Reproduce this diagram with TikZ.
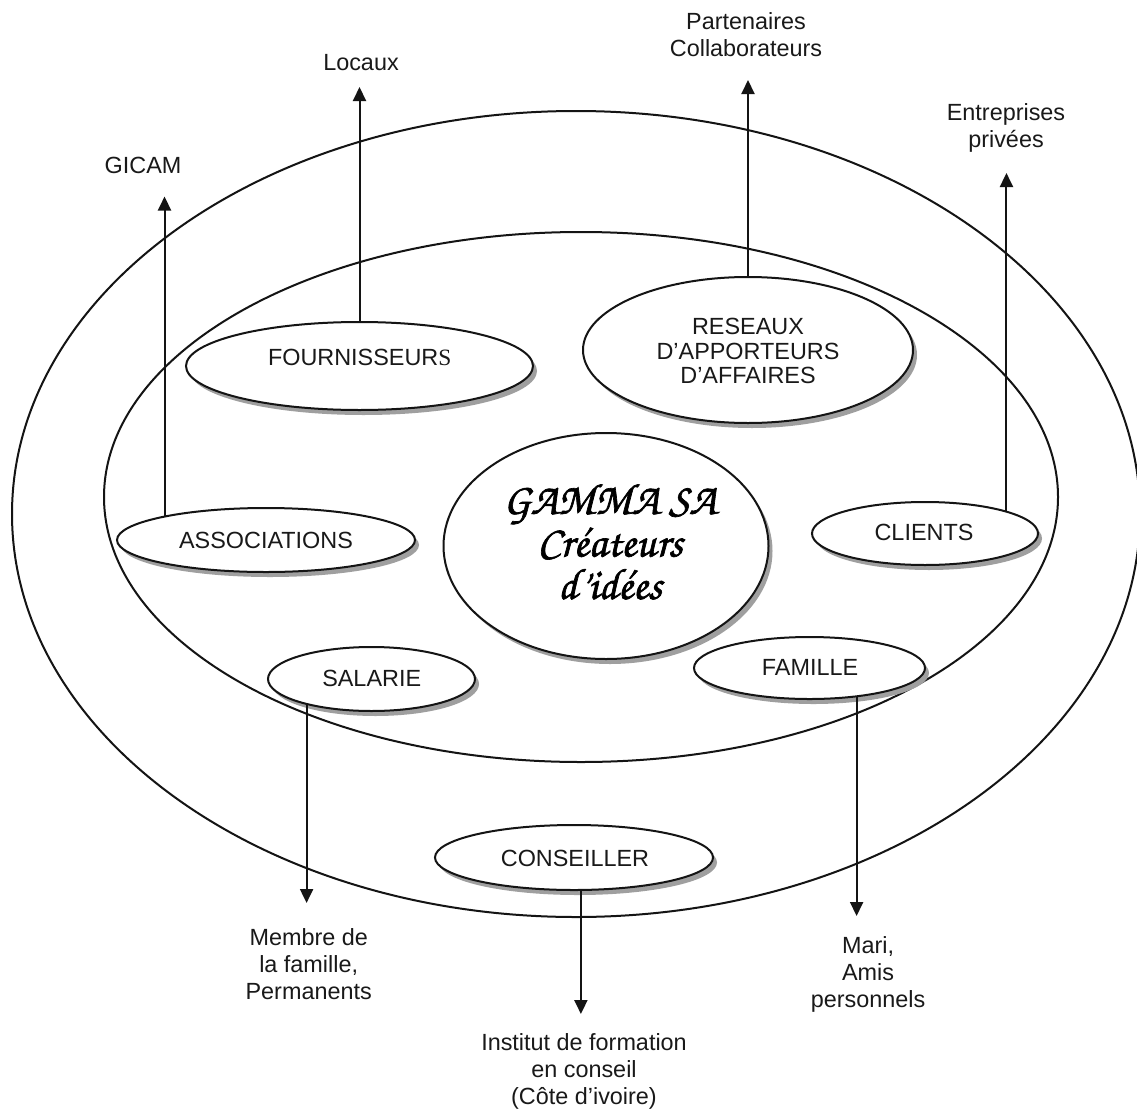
\documentclass[tikz,border=0pt]{standalone}
\usepackage{fontspec}
\setmainfont{Liberation Sans}
\newfontfamily\serifface{Liberation Serif}
\newfontfamily\gammaface[FakeBold=1.5]{texgyrechorus-mediumitalic.otf}
\usetikzlibrary{shapes.geometric,arrows.meta,shadows}
\begin{document}
\begin{tikzpicture}[x=1pt,y=-1pt,
  big/.style={draw=black!92, line width=2pt},
  actor/.style={ellipse, draw=black!92, fill=white, line width=2pt, inner sep=0pt, outer sep=0pt,
    drop shadow={shadow xshift=4pt, shadow yshift=-5pt, fill=gray!75, opacity=1}},
  lab/.style={font=\fontsize{23.4}{27}\selectfont, text=black!90, inner sep=0pt, align=center},
  arr/.style={-{Triangle[width=13pt,length=14pt]}, line width=2pt, draw=black!92},
]
\useasboundingbox (0,0) rectangle (1137,1108);
\fill[white] (0,0) rectangle (1137,1108);

% big ellipses
\draw[big] (576,514) ellipse [x radius=564, y radius=403];
\draw[big] (581,497) ellipse [x radius=477, y radius=265];

% actor ellipses
\node[actor, minimum width=347pt, minimum height=88pt]  (fourn)   at (359.5,366) {};
\node[actor, minimum width=330pt, minimum height=146pt] (reseaux) at (748,350) {};
\node[actor, minimum width=325pt, minimum height=226pt] (gamma)   at (606,546) {};
\node[actor, minimum width=298pt, minimum height=64pt]  (assoc)   at (266,540) {};
\node[actor, minimum width=226pt, minimum height=63pt]  (clients) at (925,533.5) {};
\node[actor, minimum width=207pt, minimum height=64pt]  (salarie) at (371.5,679) {};
\node[actor, minimum width=231pt, minimum height=62pt]  (famille) at (809.5,668) {};
\node[actor, minimum width=278pt, minimum height=65pt]  (conseil) at (574,857.5) {};

% texts in ellipses
\node[lab, anchor=base] (tfourn) at (359.7,365) {FOURNISSEUR{\serifface S}};
\node[lab, anchor=north, font=\fontsize{23.4}{24.2}\selectfont] (treseaux) at (748,318.3) {RESEAUX\\D’APPORTEURS\\D’AFFAIRES};
\node[lab, font=\gammaface\fontsize{44}{42.5}\selectfont, text=black] (tgamma) at (610,542) {GAMMA SA\\Créateurs\\d’idées};
\node[lab, anchor=base] (tassoc)   at (266,548) {ASSOCIATIONS};
\node[lab, anchor=base] (tclients) at (924,540.7) {CLIENTS};
\node[lab, anchor=base] (tsalarie) at (371.7,686.7) {SALARIE};
\node[lab, anchor=base] (tfamille) at (810,675) {FAMILLE};
\node[lab, anchor=base] (tconseil) at (575,866.7) {CONSEILLER};

% outside labels
\node[lab, anchor=base]  (locaux) at (361,70.6) {Locaux};
\node[lab, anchor=north] (parten) at (746,12.8) {Partenaires\\Collaborateurs};
\node[lab, anchor=north] (entrep) at (1006,103.3) {Entreprises\\privées};
\node[lab, anchor=base]  (gicam)  at (143,173) {GICAM};
\node[lab, anchor=north] (membre) at (308.7,928.3) {Membre de\\la famille,\\Permanents};
\node[lab, anchor=north] (mari)   at (868,936.7) {Mari,\\Amis\\personnels};
\node[lab, anchor=north] (instit) at (584,1033) {Institut de formation\\en conseil\\(Côte d’ivoire)};

% arrow tips
\coordinate (tipLoc) at (359.5,87);
\coordinate (tipPar) at (748,80);
\coordinate (tipEnt) at (1004,173);
\coordinate (tipGic) at (161,196.5);
\coordinate (tipSal) at (308,903);
\coordinate (tipFam) at (857,916);
\coordinate (tipIns) at (581,1014);

% connectors
\draw[arr] (fourn.north) -- (tipLoc);
\draw[arr] (reseaux.north) -- (tipPar);
\draw[arr] (clients.15.9) -- (clients.15.9 |- tipEnt);
\draw[arr] (assoc.167.8) -- (assoc.167.8 |- tipGic);
\draw[arr] (salarie.201.7) -- (salarie.201.7 |- tipSal);
\draw[arr] (famille.329.2) -- (famille.329.2 |- tipFam);
\draw[arr] (conseil.282.2) -- (conseil.282.2 |- tipIns);
\end{tikzpicture}
\end{document}
